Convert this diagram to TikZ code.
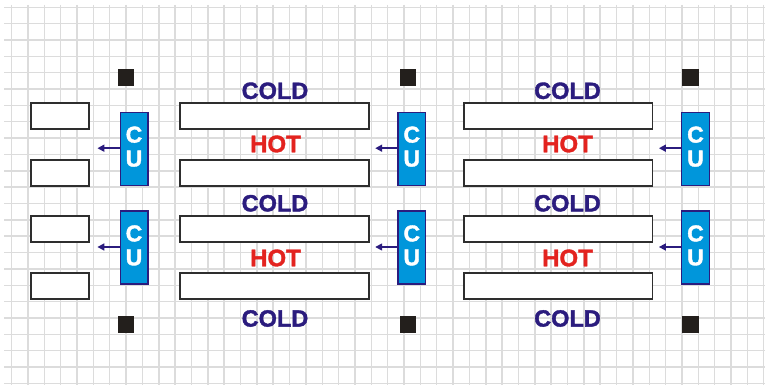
\documentclass[tikz,border=0pt]{standalone}
\usepackage{fontspec}
\setmainfont{Liberation Sans}
\newfontfamily\heavyfont[BoldFeatures={FakeBold=1.6}]{Liberation Sans}
\usetikzlibrary{arrows.meta}
\definecolor{navy}{HTML}{2B1C7E}
\definecolor{hotred}{HTML}{E3231F}
\definecolor{cublue}{HTML}{0096DB}
\definecolor{gridgray}{HTML}{DCDCDC}
\definecolor{boxline}{HTML}{2E2E2E}
\definecolor{sqfill}{HTML}{231F1C}
\tikzset{
  gridline/.style={draw=gridgray, line width=1.5pt},
  wbox/.style={draw=boxline, fill=white, line width=1.8pt, inner sep=0pt, minimum height=26pt},
  cubox/.style={draw=navy, fill=cublue, line width=1.3pt, inner sep=0pt, minimum width=27.7pt, minimum height=73pt},
  blk/.style={fill=sqfill, inner sep=0pt, minimum width=16.5pt, minimum height=16.5pt},
  coldlbl/.style={text=navy, font=\heavyfont\fontsize{23.5}{24}\selectfont\bfseries, inner sep=0pt},
  hotlbl/.style={text=hotred, font=\heavyfont\fontsize{24}{24}\selectfont\bfseries, inner sep=0pt},
  culbl/.style={text=white, font=\heavyfont\fontsize{23}{23}\selectfont\bfseries, inner sep=0pt},
  cuarrow/.style={draw=navy, line width=1.6pt, -{Triangle[length=7pt,width=7pt]}}
}
\begin{document}
\begin{tikzpicture}[x=1pt,y=-1pt]
\useasboundingbox (0,0) rectangle (765,385);
\fill[white] (0,0) rectangle (765,385);
% grid
\foreach \k in {0,...,46} \draw[gridline] (11.6+16.35*\k,5) -- (11.6+16.35*\k,385);
\foreach \k in {0,...,23} \draw[gridline] (4,7.3+16.35*\k) -- (765,7.3+16.35*\k);
% black squares
\node[blk] (s1) at (126,77.7) {};
\node[blk] (s2) at (408,77.7) {};
\node[blk] (s3) at (690.7,77.7) {};
\node[blk] (s4) at (126,324.3) {};
\node[blk] (s5) at (408,324.3) {};
\node[blk] (s6) at (690.7,324.3) {};
% left short boxes
\node[wbox, minimum width=58.3pt] (a1) at (59.85,116.3) {};
\node[wbox, minimum width=58.3pt] (a2) at (59.85,172.85) {};
\node[wbox, minimum width=58.3pt] (a3) at (59.85,229.1) {};
\node[wbox, minimum width=58.3pt] (a4) at (59.85,285.7) {};
% long boxes column 2
\node[wbox, minimum width=189pt] (b1) at (274.5,116.3) {};
\node[wbox, minimum width=189pt] (b2) at (274.5,172.85) {};
\node[wbox, minimum width=189pt] (b3) at (274.5,229.1) {};
\node[wbox, minimum width=189pt] (b4) at (274.5,285.7) {};
% long boxes column 3
\node[wbox, minimum width=188.5pt] (c1) at (558.2,116.3) {};
\node[wbox, minimum width=188.5pt] (c2) at (558.2,172.85) {};
\node[wbox, minimum width=188.5pt] (c3) at (558.2,229.1) {};
\node[wbox, minimum width=188.5pt] (c4) at (558.2,285.7) {};
% labels
\node[coldlbl] (k1) at (275,90.8) {COLD};
\node[hotlbl]  (h1) at (275.5,144) {HOT};
\node[coldlbl] (k2) at (275,203.3) {COLD};
\node[hotlbl]  (h2) at (275.5,258) {HOT};
\node[coldlbl] (k3) at (275,318.5) {COLD};
\node[coldlbl] (k4) at (567.5,90.8) {COLD};
\node[hotlbl]  (h3) at (567.5,144) {HOT};
\node[coldlbl] (k5) at (567.5,203.3) {COLD};
\node[hotlbl]  (h4) at (567.5,258) {HOT};
\node[coldlbl] (k6) at (567.5,318.5) {COLD};
% CU units
\foreach \n/\x/\y in {u1/134/148.7, u2/134/247.5, u3/411.8/148.7, u4/411.8/247.5, u5/695.5/148.7, u6/695.5/247.5}{
  \node[cubox] (\n) at (\x,\y) {};
  \node[culbl] (\n c) at (\x,\y-14) {C};
  \node[culbl] (\n u) at (\x,\y+10) {U};
  \coordinate (\n t) at (\x-36.6,\y-0.5);
  \draw[cuarrow] (\n.west |- \n t) -- (\n t);
}
\end{tikzpicture}
\end{document}
